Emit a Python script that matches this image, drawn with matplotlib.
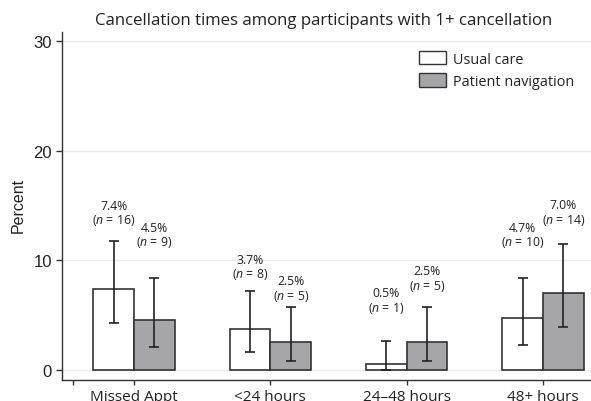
import matplotlib
matplotlib.use("Agg")
import matplotlib.pyplot as plt
import numpy as np

categories = ['Missed Appt', '<24 hours', '24\u201348 hours', '48+ hours']
usual = [7.4, 3.7, 0.5, 4.7]
nav = [4.5, 2.5, 2.5, 7.0]
usual_n = [16, 8, 1, 10]
nav_n = [9, 5, 5, 14]
usual_lo = [4.3, 1.6, 0.0, 2.3]
usual_hi = [11.8, 7.2, 2.6, 8.4]
nav_lo = [2.1, 0.8, 0.8, 3.9]
nav_hi = [8.4, 5.7, 5.7, 11.5]
yticks = [0, 10, 20, 30]
series_names = ['Usual care', 'Patient navigation']

# label heights (annotation placement, data units)
usual_label_y = [14.3, 9.4, 6.3, 12.3]
nav_label_y = [12.3, 7.4, 8.35, 14.35]

plt.rcParams['mathtext.fontset'] = 'custom'
plt.rcParams['mathtext.it'] = 'Open Sans:italic'
plt.rcParams['mathtext.rm'] = 'Open Sans'

SANS = 'Open Sans'
TXT = '#222222'

fig = plt.figure(figsize=(5.91, 4.02), dpi=100)
ax = fig.add_axes([62.3 / 591, 21.3 / 402, 1 - 62.3 / 591, (380.7 - 33) / 402])

x = np.arange(len(categories))
w = 0.297
off = 0.149
ekw = dict(ecolor='#222222', elinewidth=1.2, capsize=3.5, capthick=1.2)

u = np.array(usual)
v = np.array(nav)
uerr = [u - np.array(usual_lo), np.array(usual_hi) - u]
verr = [v - np.array(nav_lo), np.array(nav_hi) - v]

ax.bar(x - off, u, w, color='white', edgecolor='#333333', linewidth=1.2,
       label=series_names[0], zorder=3)
ax.bar(x + off, v, w, color='#a6a6a8', edgecolor='#333333', linewidth=1.2,
       label=series_names[1], zorder=3)
ax.errorbar(x - off, u, yerr=uerr, fmt='none', zorder=4, **ekw)
ax.errorbar(x + off, v, yerr=verr, fmt='none', zorder=4, **ekw)

for i in range(len(categories)):
    ax.text(x[i] - off, usual_label_y[i], f"{usual[i]:.1f}%\n($n$ = {usual_n[i]})",
            ha='center', va='center', fontsize=8.8, family=SANS, color=TXT,
            linespacing=1.05)
    ax.text(x[i] + off, nav_label_y[i], f"{nav[i]:.1f}%\n($n$ = {nav_n[i]})",
            ha='center', va='center', fontsize=8.8, family=SANS, color=TXT,
            linespacing=1.05)

ax.set_xlim(-0.526, 3.352)
ax.set_ylim(-0.913, 30.85)
ax.set_yticks(yticks)
ax.set_yticklabels([str(t) for t in yticks], family='Liberation Sans', fontsize=12, color=TXT)
ax.set_xticks([-0.45] + list(x))
ax.set_xticklabels([''] + categories, family=SANS, fontsize=11, color=TXT)
ax.tick_params(axis='y', length=4.5, width=1, pad=3, color='#333333')
ax.tick_params(axis='x', length=3.5, width=1, pad=3, color='#333333')

ax.grid(axis='y', color='#ebebeb', linewidth=1, zorder=0)
ax.set_axisbelow(True)
for s in ['top', 'right']:
    ax.spines[s].set_visible(False)
for s in ['left', 'bottom']:
    ax.spines[s].set_color('#333333')
    ax.spines[s].set_linewidth(1)

fig.text(18 / 591, 1 - 205 / 402, 'Percent', rotation=90, ha='center', va='center',
         family='Liberation Sans', fontsize=11.5, color=TXT)
fig.text(324 / 591, 1 - 21 / 402, 'Cancellation times among participants with 1+ cancellation',
         ha='center', va='center', family=SANS, fontsize=12.1, color=TXT)

leg = ax.legend(loc='upper left', bbox_to_anchor=(419 / 591, 1 - 52 / 402),
                bbox_transform=fig.transFigure, frameon=False,
                prop={'family': SANS, 'size': 10.4},
                handlelength=1.85, handleheight=1.05, handletextpad=0.5,
                labelspacing=0.45, borderpad=0, borderaxespad=0)
for h in leg.legend_handles:
    h.set_linewidth(1)
for t in leg.get_texts():
    t.set_color(TXT)

fig.savefig('out.png', dpi=100)
